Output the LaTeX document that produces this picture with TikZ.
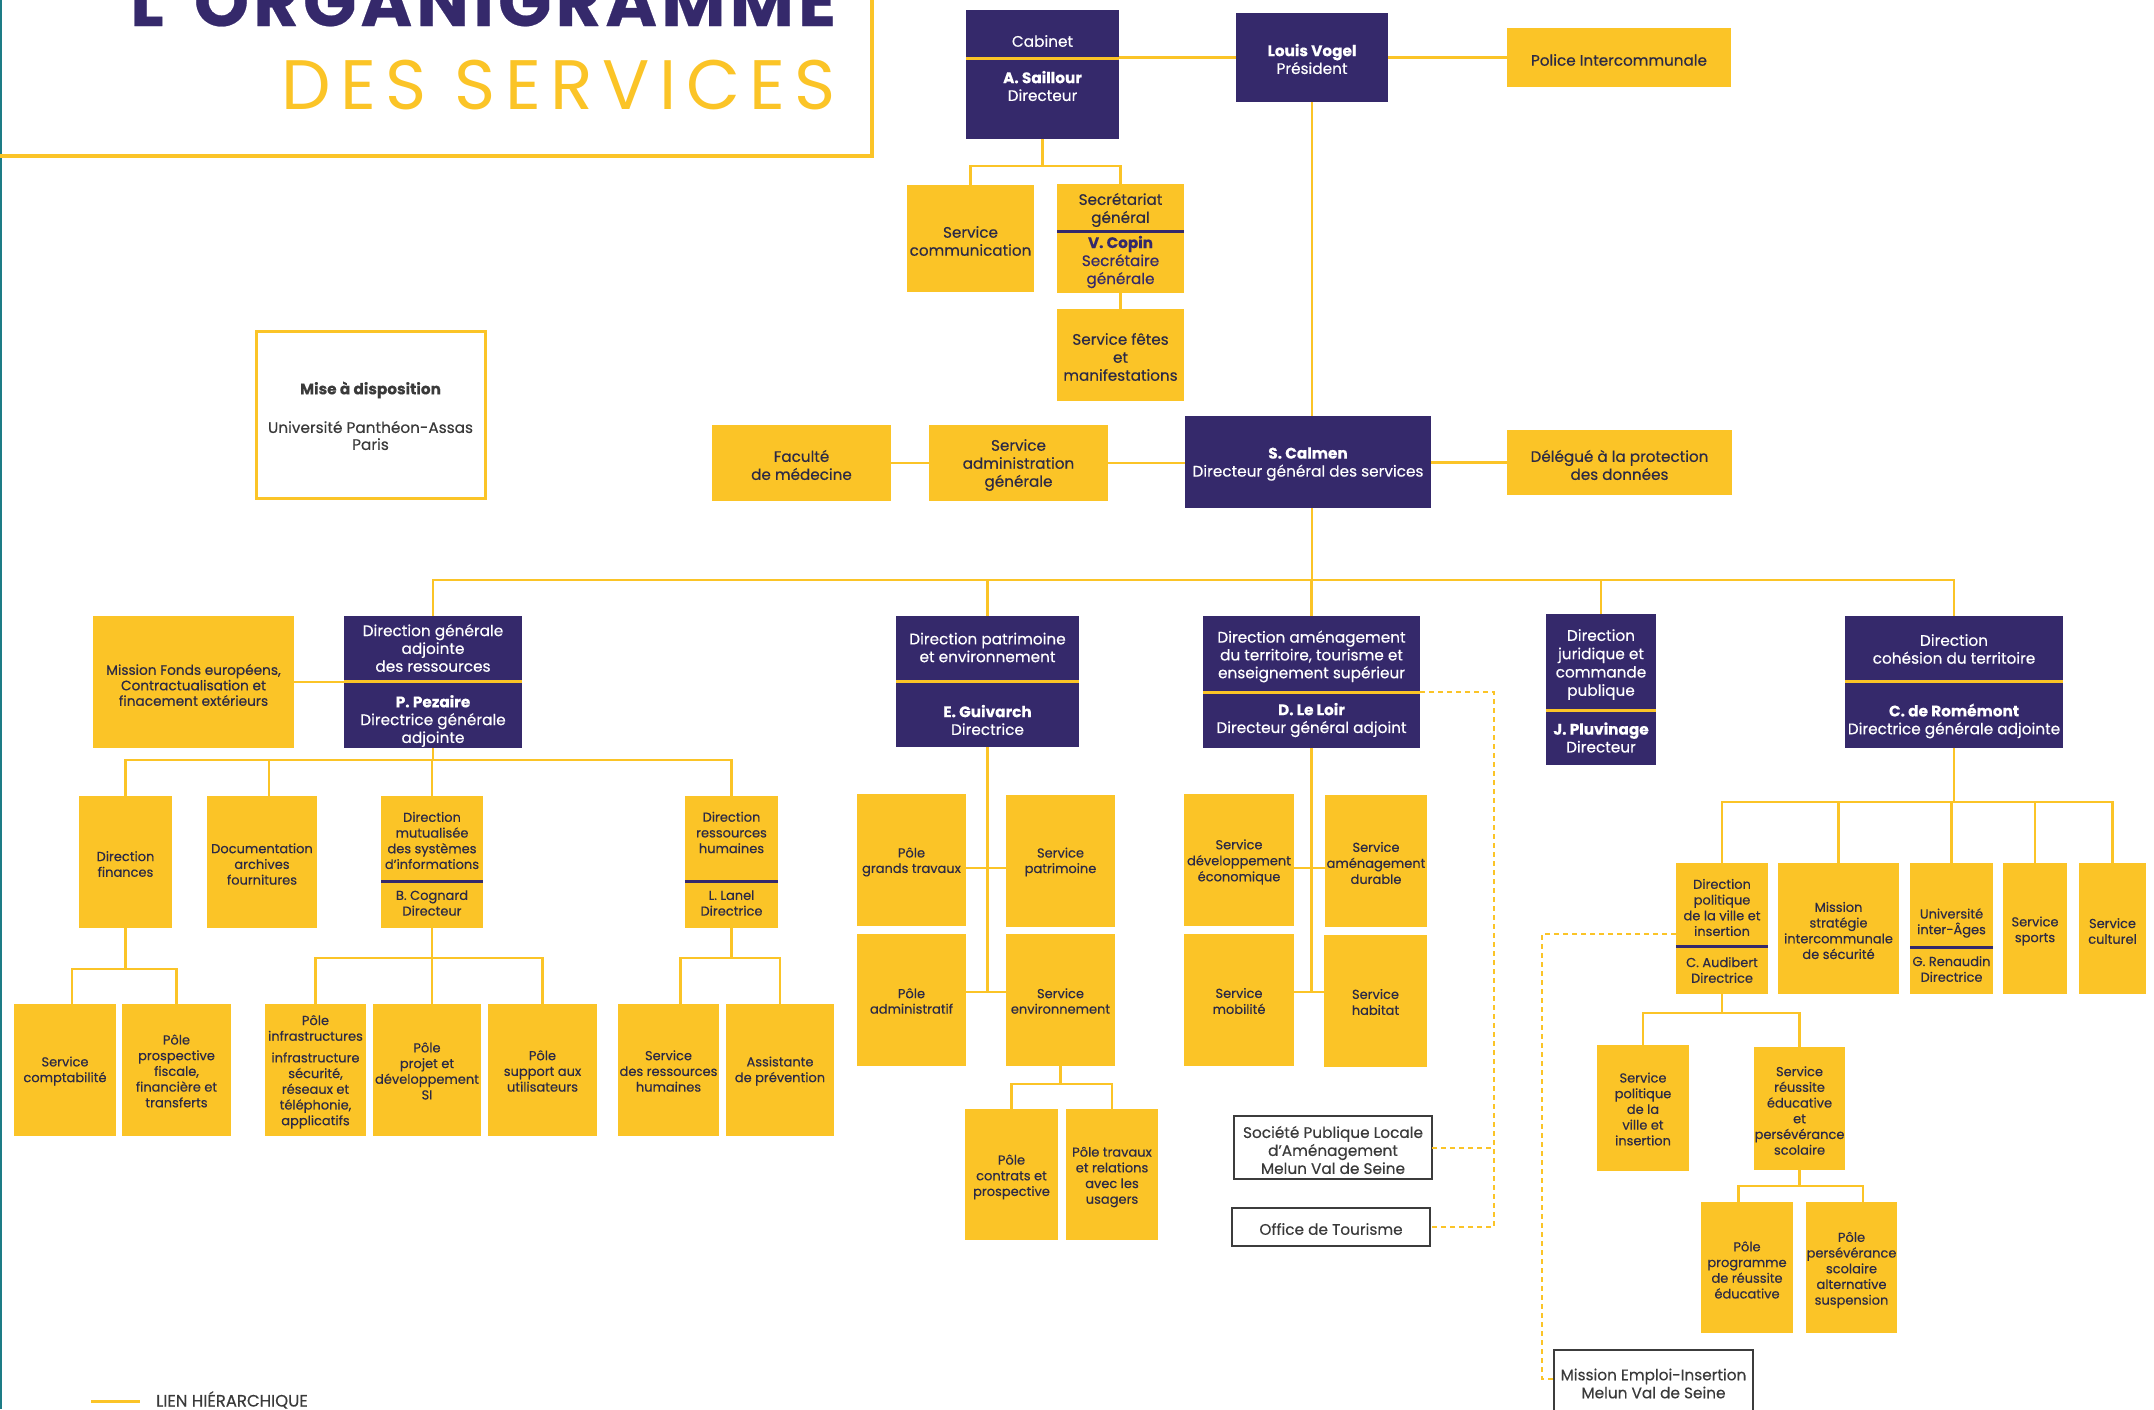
\documentclass[tikz,border=0pt]{standalone}
\usepackage{fontspec}
\setmainfont{Poppins}[FakeBold=0.35]
\newfontfamily\ttlfont{Poppins}[LetterSpace=13.5]
\definecolor{pur}{HTML}{35296B}
\definecolor{yel}{HTML}{FBC427}
\definecolor{txt}{HTML}{2C2A45}
\definecolor{txg}{HTML}{3A3A3A}
\definecolor{gbd}{HTML}{3C3C3C}
\definecolor{tealc}{HTML}{1D7C86}
\newcommand\fz[2]{\fontsize{#1}{#2}\selectfont}
\tikzset{
 yb/.style={fill=yel, draw=none, inner sep=0pt, outer sep=0pt},
 pb/.style={fill=pur, draw=none, inner sep=0pt, outer sep=0pt},
 wb/.style={fill=white, draw=gbd, line width=2.5pt, inner sep=0pt, outer sep=0pt},
 wyb/.style={fill=white, draw=yel, line width=3pt, inner sep=0pt, outer sep=0pt},
 tY/.style={text=txt, align=center, inner sep=0pt, font=\fz{13}{15.7}},
 tT/.style={text=txt, align=center, inner sep=0pt, font=\fz{15.2}{18}},
 tP/.style={text=white, align=center, inner sep=0pt, font=\fz{15.3}{17.8}},
 tW/.style={text=txg, align=center, inner sep=0pt, font=\fz{15.3}{18}},
 lk/.style={draw=yel, line width=2.8pt},
 dsh/.style={draw=yel, line width=2pt, dash pattern=on 5pt off 4pt},
 sepY/.style={draw=yel, line width=3pt},
 sepP/.style={draw=pur, line width=3pt},
}
\newcommand\bx[9]{%
 \node[#1, minimum width={(#5-#3)*1pt}, minimum height={(#6-#4)*1pt}] (#2) at ({(#3+#5)/2},{(#4+#6)/2}) {};
 \node[#8] (#2-t) at ({(#3+#5)/2},#7) {#9};}
\begin{document}
\begin{tikzpicture}[x=1pt,y=-1pt]
\useasboundingbox (0,0) rectangle (2154,1409);
\clip (0,0) rectangle (2154,1409);
\fill[white] (0,0) rectangle (2154,1409);
% title
\draw[tealc, line width=2.5pt] (1,0) -- (1,1409);
\draw[yel, line width=3.5pt] (0,156) -- (872,156) -- (872,-5);
\node[anchor=base west, inner sep=0pt, text=pur] (t1) at (130,26)
 {\fz{70}{70}\bfseries\addfontfeature{LetterSpace=6}L’ORGANIGRAMME};
\node[anchor=base west, inner sep=0pt, text=yel] (t2) at (281,109)
 {\fz{70}{70}\ttlfont DES SERVICES};
% top
\bx{pb}{cab}{966}{10}{1119}{139}{41}{tP}{Cabinet}
\node[tP] (cab-n) at (1042.5,86) {\textbf{A. Saillour}\\Directeur};
\draw[sepY] (966,58) -- (1119,58);
\bx{pb}{vogel}{1236}{13}{1388}{102}{59}{tP}{\textbf{Louis Vogel}\\Président}
\bx{yb}{police}{1507}{28}{1731}{87}{60}{tT}{Police Intercommunale}
\bx{yb}{com}{907}{185}{1034}{292}{241}{tT}{Service\\communication}
\bx{yb}{sg}{1057}{184}{1184}{293}{210}{tT}{Secrétariat\\général}
\node[tT,text=pur] (sg-n) at (1120.5,262) {\textbf{V. Copin}\\Secrétaire\\générale};
\draw[sepP] (1057,231) -- (1184,231);
\bx{yb}{fetes}{1057}{309}{1184}{401}{357}{tT}{Service fêtes\\et\\manifestations}
% level 2
\bx{pb}{calmen}{1185}{416}{1431}{508}{464}{tP,font=\fz{15.3}{18}}{\textbf{S. Calmen}\\Directeur général des services}
\bx{yb}{sag}{929}{425}{1108}{501}{465}{tT}{Service\\administration\\générale}
\bx{yb}{fac}{712}{425}{891}{501}{465}{tT}{Faculté\\de médecine}
\bx{yb}{dpd}{1507}{430}{1732}{495}{465}{tT}{Délégué à la protection\\des données}
\bx{wyb}{mad}{256}{331}{485}{498}{390}{tW}{\textbf{Mise à disposition}}
\node[tW,font=\fz{15.3}{17}] (mad-n) at (370.5,435.5) {Université Panthéon-Assas\\Paris};
% level 3
\bx{pb}{dga}{344}{616}{522}{748}{648}{tP}{Direction générale\\adjointe\\des ressources}
\node[tP] (dga-n) at (433,721) {\textbf{P. Pezaire}\\Directrice générale\\adjointe};
\draw[sepY] (344,681) -- (522,681);
\bx{yb}{mfe}{93}{616}{294}{748}{685}{tY,font=\fz{13.7}{15.5}}{Mission Fonds européens,\\Contractualisation et\\finacement extérieurs}
\bx{pb}{dpe}{896}{616}{1079}{747}{647.5}{tP}{Direction patrimoine\\et environnement}
\node[tP] (dpe-n) at (987.5,720) {\textbf{E. Guivarch}\\Directrice};
\draw[sepY] (896,681) -- (1079,681);
\bx{pb}{dat}{1203}{616}{1420}{748}{656.5}{tP}{Direction aménagement\\du territoire, tourisme et\\enseignement supérieur}
\node[tP] (dat-n) at (1311.5,720) {\textbf{D. Le Loir}\\Directeur général adjoint};
\draw[sepY] (1203,692) -- (1420,692);
\bx{pb}{djc}{1546}{614}{1656}{765}{664.5}{tP,font=\fz{15.3}{18.3}}{Direction\\juridique et\\commande\\publique}
\node[tP] (djc-n) at (1601,737.5) {\textbf{J. Pluvinage}\\Directeur};
\draw[sepY] (1546,710) -- (1656,710);
\bx{pb}{dct}{1845}{616}{2063}{748}{649}{tP}{Direction\\cohésion du territoire}
\node[tP] (dct-n) at (1954,721) {\textbf{C. de Romémont}\\Directrice générale adjointe};
\draw[sepY] (1845,681) -- (2063,681);
% DGA sub
\bx{yb}{fin}{79}{796}{172}{928}{864}{tY}{Direction\\finances}
\bx{yb}{doc}{207}{796}{317}{928}{864}{tY}{Documentation\\archives\\fournitures}
\bx{yb}{dsi}{381}{796}{483}{928}{840.5}{tY}{Direction\\mutualisée\\des systèmes\\d’informations}
\node[tY] (dsi-n) at (432,903) {B. Cognard\\Directeur};
\draw[sepP] (381,881) -- (483,881);
\bx{yb}{drh}{685}{796}{778}{928}{832.5}{tY}{Direction\\ressources\\humaines}
\node[tY] (drh-n) at (731.5,903) {L. Lanel\\Directrice};
\draw[sepP] (685,881) -- (778,881);
\bx{yb}{comp}{14}{1004}{116}{1136}{1071}{tY}{Service\\comptabilité}
\bx{yb}{ppf}{122}{1004}{231}{1136}{1071}{tY}{Pôle\\prospective\\fiscale,\\financière et\\transferts}
\bx{yb}{pinf}{265}{1004}{366}{1136}{1028}{tY}{Pôle\\infrastructures}
\node[tY] (pinf-n) at (315.5,1090.5) {infrastructure\\sécurité,\\réseaux et\\téléphonie,\\applicatifs};
\bx{yb}{pproj}{373}{1004}{481}{1136}{1071}{tY}{Pôle\\projet et\\développement\\SI}
\bx{yb}{psup}{488}{1004}{597}{1136}{1071}{tY}{Pôle\\support aux\\utilisateurs}
\bx{yb}{srh}{618}{1004}{719}{1136}{1071}{tY}{Service\\des ressources\\humaines}
\bx{yb}{ass}{726}{1004}{834}{1136}{1071}{tY}{Assistante\\de prévention}
% DPE sub
\bx{yb}{pgt}{857}{794}{966}{926}{862}{tY,font=\fz{13}{15.5}}{Pôle\\grands travaux}
\bx{yb}{spat}{1006}{795}{1115}{927}{862}{tY,font=\fz{13}{15.5}}{Service\\patrimoine}
\bx{yb}{padm}{857}{934}{966}{1066}{1001}{tY,font=\fz{13}{15.5}}{Pôle\\administratif}
\bx{yb}{senv}{1006}{934}{1115}{1066}{1001}{tY,font=\fz{13}{15.5}}{Service\\environnement}
\bx{yb}{pcp}{965}{1109}{1058}{1240}{1177}{tY}{Pôle\\contrats et\\prospective}
\bx{yb}{ptr}{1066}{1109}{1158}{1240}{1177}{tY}{Pôle travaux\\et relations\\avec les\\usagers}
% DAT sub
\bx{yb}{sde}{1184}{794}{1294}{926}{862}{tY,font=\fz{13}{16}}{Service\\développement\\économique}
\bx{yb}{sad}{1325}{795}{1427}{927}{863}{tY,font=\fz{13}{16}}{Service\\aménagement\\durable}
\bx{yb}{smo}{1184}{934}{1294}{1066}{1001}{tY,font=\fz{13}{16}}{Service\\mobilité}
\bx{yb}{shab}{1324}{935}{1427}{1067}{1002}{tY,font=\fz{13}{16}}{Service\\habitat}
\bx{wb}{spl}{1234}{1116}{1432}{1179}{1150}{tW}{Société Publique Locale\\d’Aménagement\\Melun Val de Seine}
\bx{wb}{ot}{1232}{1208}{1430}{1246}{1229}{tW}{Office de Tourisme}
% DCT sub
\bx{yb}{dpv}{1676}{863}{1768}{994}{907.5}{tY}{Direction\\politique\\de la ville et\\insertion}
\node[tY] (dpv-n) at (1722,970) {C. Audibert\\Directrice};
\draw[sepP] (1676,946) -- (1768,946);
\bx{yb}{mss}{1778}{863}{1899}{994}{930.5}{tY}{Mission\\stratégie\\intercommunale\\de sécurité}
\bx{yb}{uia}{1910}{863}{1993}{994}{923}{tY}{Université\\inter-Âges}
\node[tY] (uia-n) at (1951.5,969) {G. Renaudin\\Directrice};
\draw[sepP] (1910,947) -- (1993,947);
\bx{yb}{ssp}{2003}{863}{2067}{994}{931}{tY}{Service\\sports}
\bx{yb}{scu}{2079}{863}{2146}{994}{931}{tY}{Service\\culturel}
\bx{yb}{spv}{1597}{1045}{1689}{1171}{1109}{tY}{Service\\politique\\de la\\ville et\\insertion}
\bx{yb}{sre}{1754}{1047}{1845}{1170}{1110.5}{tY}{Service\\réussite\\éducative\\et\\persévérance\\scolaire}
\bx{yb}{ppr}{1701}{1202}{1793}{1333}{1270}{tY}{Pôle\\programme\\de réussite\\éducative}
\bx{yb}{pps}{1806}{1202}{1897}{1333}{1270}{tY}{Pôle\\persévérance\\scolaire\\alternative\\suspension}
\bx{wb}{mei}{1554}{1350}{1753}{1425}{1383.5}{tW}{Mission Emploi-Insertion\\Melun Val de Seine}
% ---------- connectors
\draw[lk] (vogel.west -| cab.east) -- (vogel.west);
\draw[lk] (vogel.east) -- (police.west);
\coordinate (cabB) at (1042.5,166);
\draw[lk] (cab.south) -- (cabB);
\draw[lk] (com.north) |- (cabB) -| (sg.north);
\draw[lk] (sg.south) -- (fetes.north);
\draw[lk] (vogel.south) -- (vogel.south |- calmen.north);
\draw[lk] (fac.east) -- (sag.west);
\draw[lk] (sag.east) -- (sag.east -| calmen.west);
\draw[lk] (dpd.west -| calmen.east) -- (dpd.west);
\coordinate (mb) at (1312,580);
\draw[lk] (vogel.south |- calmen.south) -- (mb);
\draw[lk] (dga.north) |- (mb) -| (dct.north);
\draw[lk] (dpe.north) -- (dpe.north |- mb);
\draw[lk] (dat.north) -- (dat.north |- mb);
\draw[lk] (djc.north) -- (djc.north |- mb);
\draw[lk] (mfe.east) -- (dga.west);
% DGA
\coordinate (dgaB) at (433,760);
\draw[lk] (dga.south) -- (dgaB);
\draw[lk] (fin.north) |- (dgaB) -| (drh.north);
\coordinate (docT) at ([xshift=7pt]doc.north);
\draw[lk] (docT) -- (docT |- dgaB);
\draw[lk] (dsi.north) -- (dsi.north |- dgaB);
\coordinate (finB) at (125.5,969);
\coordinate (compT) at ([xshift=7pt]comp.north);
\draw[lk] (fin.south) -- (finB);
\draw[lk] (compT) |- (finB) -| (ppf.north);
\coordinate (dsiB) at (432,958);
\draw[lk] (dsi.south) -- (dsi.south |- pproj.north);
\draw[lk] (pinf.north) |- (dsiB) -| (psup.north);
\coordinate (drhB) at (731.5,958);
\coordinate (srhT) at ([xshift=12pt]srh.north);
\draw[lk] (drh.south) -- (drhB);
\draw[lk] (srhT) |- (drhB) -| (ass.north);
% DPE
\coordinate (dpeL1) at (986,868);
\coordinate (dpeL2) at (986,992);
\draw[lk] (dpe.south) -- (dpe.south |- dpeL2);
\draw[lk] (pgt.east |- dpeL1) -- (spat.west |- dpeL1);
\draw[lk] (padm.east |- dpeL2) -- (senv.west |- dpeL2);
\coordinate (senvB) at (1062,1084);
\draw[lk] (senv.south) -- (senv.south |- senvB);
\draw[lk] (pcp.north) |- (senvB) -| (ptr.north);
% DAT
\coordinate (datL1) at (1310,868);
\coordinate (datL2) at (1310,992);
\draw[lk] (dat.south) -- (dat.south |- datL2);
\draw[lk] (sde.east |- datL1) -- (sad.west |- datL1);
\draw[lk] (smo.east |- datL2) -- (shab.west |- datL2);
\coordinate (dv) at (1494,1227);
\draw[dsh] ([yshift=-10pt]dat.east) -| (dv) -- (ot.east);
\draw[dsh] (spl.east) -- (spl.east -| dv);
% DCT
\coordinate (dctB) at (1952,802);
\draw[lk] (dct.south) -- (dct.south |- dctB);
\draw[lk] (dpv.north) |- (dctB) -| (scu.north);
\draw[lk] (mss.north) -- (mss.north |- dctB);
\draw[lk] (uia.north) -- (uia.north |- dctB);
\draw[lk] (ssp.north) -- (ssp.north |- dctB);
\coordinate (dpvB) at (1722,1013);
\draw[lk] (dpv.south) -- (dpvB);
\draw[lk] (spv.north) |- (dpvB) -| (sre.north);
\coordinate (sreB) at (1799.5,1186);
\coordinate (pprT) at ([xshift=-8.5pt]ppr.north);
\coordinate (ppsT) at ([xshift=11.5pt]pps.north);
\draw[lk] (sre.south) -- (sreB);
\draw[lk] (pprT) |- (sreB) -| (ppsT);
\coordinate (dv2) at (1542,1379);
\draw[dsh] ([yshift=-5.5pt]dpv.west) -| (dv2) -- (dv2 -| mei.west);
% legend
\coordinate (lg1) at (91,1401);
\coordinate (lg2) at (140,1401);
\draw[yel, line width=3pt] (lg1) -- (lg2);
\node[anchor=base west, inner sep=0pt, text=txg, font=\fz{16.5}{16.5}] (lgt) at (156,1406.5) {LIEN HIÉRARCHIQUE};
\end{tikzpicture}
\end{document}
